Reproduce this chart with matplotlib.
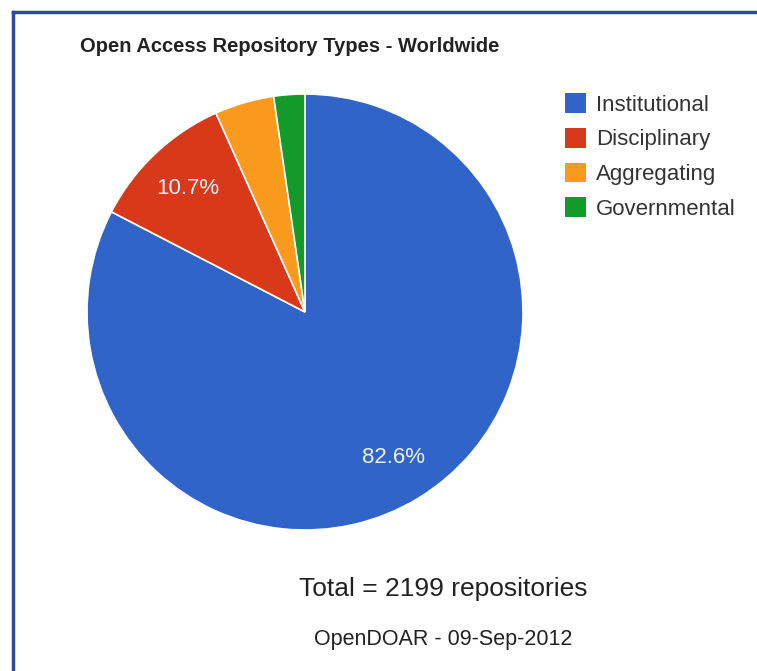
import matplotlib.pyplot as plt
from matplotlib.patches import Patch
from matplotlib.lines import Line2D

plt.rcParams['font.family'] = ['Liberation Sans', 'DejaVu Sans']

labels = ["Institutional", "Disciplinary", "Aggregating", "Governmental"]
shares = [82.6, 10.7, 4.4, 2.3]
colors = ["#3064c8", "#d8391a", "#f99a1c", "#139a2a"]
total = 2199
source = "OpenDOAR - 09-Sep-2012"

W, H = 757, 671
fig = plt.figure(figsize=(W / 100, H / 100), dpi=100)

# pie: centre (305, 312), radius 218 px
cx, cy, r = 305, 312, 218
ax = fig.add_axes([(cx - r) / W, 1 - (cy + r) / H, 2 * r / W, 2 * r / H])

def fmt(p):
    return f"{p:.1f}%" if p > 5 else ""

wedges, texts, autotexts = ax.pie(
    shares, colors=colors, startangle=90, counterclock=False,
    autopct=fmt, pctdistance=0.78, radius=1,
    wedgeprops=dict(edgecolor="white", linewidth=1.2),
    textprops=dict(color="#eef2fa", fontsize=16))
ax.set_xlim(-1, 1)
ax.set_ylim(-1, 1)
ax.set_aspect("equal")
ax.axis("off")

fig.text(80 / W, 1 - 47 / H, "Open Access Repository Types - Worldwide",
         fontsize=14.5, fontweight="bold", va="center", ha="left", color="#222222")

handles = [Patch(facecolor=c, edgecolor="none") for c in colors]
fig.legend(handles, labels, loc="upper left", bbox_to_anchor=(545 / W, 1 - 73 / H),
           frameon=False, fontsize=16, handlelength=0.95, handleheight=1.0,
           handletextpad=0.45, labelspacing=0.55, labelcolor="#333333")

fig.text(443 / W, 1 - 589 / H, f"Total = {total} repositories",
         fontsize=19, ha="center", va="center", color="#222222")
fig.text(443 / W, 1 - 640 / H, source,
         fontsize=15.5, ha="center", va="center", color="#222222")

# frame lines (left and top)
border = "#2e4a9e"
fig.add_artist(Line2D([13 / W, 13 / W], [0, 1 - 12 / H], color=border, linewidth=2.5))
fig.add_artist(Line2D([13 / W, 1], [1 - 12 / H, 1 - 12 / H], color=border, linewidth=2.5))

fig.savefig("out.png", dpi=100)
